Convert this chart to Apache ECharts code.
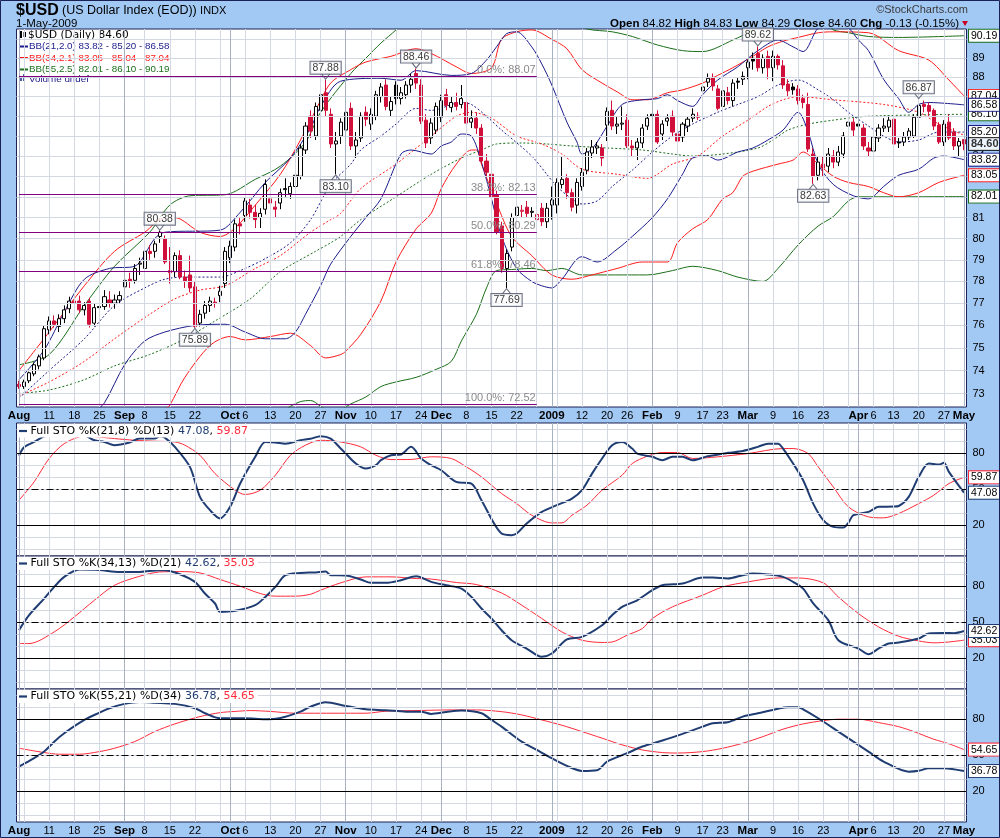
<!DOCTYPE html>
<html><head><meta charset="utf-8">
<script src="https://cdn.jsdelivr.net/npm/echarts@6/dist/echarts.min.js"></script>
<style>html,body{margin:0;padding:0;background:#a2c8f4;}#c{width:1000px;height:838px;}</style>
</head><body><div id="c"></div>
<script>
// ---------- categories ----------
const holidays = ['2008-09-01','2008-11-27','2008-12-25','2009-01-01','2009-01-19','2009-02-16','2009-04-10'];
function buildDates(){const out=[];let t=Date.UTC(2008,7,1);const end=Date.UTC(2009,4,1);
  while(t<=end){const d=new Date(t);const wd=d.getUTCDay();const s=d.toISOString().slice(0,10);
    if(wd>0&&wd<6&&holidays.indexOf(s)<0)out.push(s);t+=86400000;}return out;}
const dates = buildDates();

// ---------- tick labels ----------
const xTickIdx  = [0,6,11,16,21,25,30,35,42,45,50,55,60,65,70,75,80,84,89,94,99,106,112,117,121,126,131,136,140,145,150,155,160,167,170,174,179,184,188];
const xTickText = ['Aug','11','18','25','Sep','8','15','22','Oct','6','13','20','27','Nov','10','17','24','Dec','8','15','22','2009','12','20','26','Feb','9','17','23','Mar','9','16','23','Apr','6','13','20','27','May'];
const priceTicks = [73,74,75,76,77,78,79,80,81,82,83,84,85,86,87,88,89,90];
const stoTicks = [20,50,80];

// ---------- daily OHLC ----------
const open = [73.40,73.30,73.55,73.85,74.20,74.55,75.80,76.20,75.95,76.30,
76.75,77.10,77.10,76.70,77.10,76.10,76.85,76.85,77.15,77.00,
77.15,77.75,78.10,78.05,78.80,78.60,79.40,79.40,80.10,80.00,
78.50,78.45,79.20,78.20,78.30,77.75,76.10,76.55,76.90,77.05,
77.35,77.90,79.10,79.60,80.70,81.10,81.60,81.25,81.00,81.40,
81.90,81.50,81.70,82.35,82.15,82.50,83.00,84.30,86.00,85.00,
86.30,87.20,86.10,84.60,85.00,85.30,86.40,84.50,84.90,86.20,
85.60,86.00,87.00,87.60,86.30,87.60,86.90,87.10,87.60,88.20,
87.60,85.80,84.90,85.30,85.95,87.10,86.45,86.70,86.60,86.70,
85.70,85.90,85.40,83.75,83.10,82.10,80.60,78.60,79.60,81.10,
81.30,81.50,81.25,80.90,81.45,80.80,81.60,81.60,82.60,82.90,
82.20,81.60,82.50,83.30,84.15,84.40,84.40,85.55,86.30,85.50,
85.60,85.80,84.50,84.40,84.65,85.50,86.10,86.10,85.10,85.75,
86.00,85.10,84.95,85.50,85.90,86.00,87.30,87.75,88.00,87.40,
86.50,87.20,86.80,87.80,87.90,88.50,89.00,89.25,88.50,89.10,
88.50,89.10,88.60,87.65,87.50,87.40,86.90,86.60,84.10,83.05,
83.60,83.50,84.00,83.70,84.10,85.50,85.70,85.60,85.40,84.40,
84.25,84.90,85.40,85.45,85.85,84.70,84.70,84.95,85.00,85.95,
86.60,86.55,86.30,85.55,84.70,85.70,85.20,84.50,84.82];
const high = [73.55,73.60,73.95,74.35,74.70,76.00,76.40,76.45,76.50,76.90,
77.30,77.45,77.35,77.05,77.25,77.00,77.10,77.60,77.55,77.40,
77.55,78.30,78.40,78.80,79.10,79.75,79.70,79.90,80.38,80.15,
79.60,79.35,79.45,78.50,79.20,78.00,76.70,77.10,77.30,77.25,
77.80,79.60,79.90,80.90,81.00,81.95,81.90,81.60,81.45,82.85,
82.10,81.80,82.40,82.90,82.70,83.30,84.60,85.70,86.30,86.70,
87.40,87.88,86.40,85.20,85.90,86.40,86.70,85.20,86.20,86.50,
86.40,87.30,87.70,87.90,87.00,87.80,87.50,87.80,88.20,88.46,
87.90,86.10,85.90,86.70,87.10,87.40,87.00,87.20,87.60,87.00,
86.30,86.20,85.60,84.10,83.40,82.30,80.80,79.50,81.20,81.80,
81.60,81.80,81.50,81.40,81.70,81.70,82.50,82.90,83.95,83.10,
82.40,82.90,83.40,84.40,84.80,84.70,84.60,86.45,86.80,86.00,
86.50,86.10,84.80,84.90,85.60,86.10,86.40,86.30,85.80,86.10,
86.30,85.40,85.70,86.00,86.40,86.20,87.60,88.20,88.20,87.60,
87.40,87.50,87.90,88.00,88.30,88.90,89.30,89.62,89.20,89.40,
89.40,89.20,88.90,87.90,87.70,87.60,87.10,87.20,84.40,84.00,
84.00,84.40,84.30,84.50,85.20,86.10,85.90,85.80,85.60,84.70,
85.10,85.60,85.90,86.00,86.00,84.90,85.20,85.40,86.10,86.87,
86.80,86.70,86.40,85.70,85.80,86.10,85.40,84.90,84.83];
const low = [73.20,73.20,73.45,73.75,74.05,74.45,75.60,75.90,75.70,76.10,
76.55,76.85,76.55,76.45,75.90,75.95,76.60,76.70,76.80,76.75,
77.00,77.55,77.70,77.90,78.30,78.35,79.00,79.10,79.80,78.80,
77.90,78.20,78.10,77.70,77.50,75.89,75.95,76.30,76.60,76.80,
77.05,77.70,78.85,79.40,80.20,80.80,80.95,80.50,80.50,81.15,
81.20,81.00,81.40,82.00,81.90,82.30,82.85,84.10,84.90,84.80,
86.00,86.00,84.40,83.10,84.60,85.10,84.30,83.90,84.70,85.50,
85.30,85.80,86.70,86.30,86.00,86.60,86.60,86.90,87.20,87.40,
85.60,84.40,84.60,85.10,85.70,86.30,86.20,86.30,86.40,85.50,
85.40,85.10,83.60,82.90,81.85,80.20,78.40,77.69,79.40,80.80,
81.00,81.00,81.00,79.60,80.60,80.50,80.90,81.20,82.40,81.90,
81.30,81.20,82.30,83.10,83.90,84.10,83.50,84.75,85.30,85.10,
85.30,84.40,84.00,83.80,84.40,85.30,85.70,84.60,84.80,85.50,
85.00,84.50,84.70,85.20,85.70,85.80,86.40,87.50,87.30,86.30,
86.20,86.60,86.50,87.40,87.60,87.90,88.40,88.30,88.20,87.90,
87.80,88.40,87.40,87.00,87.10,86.60,86.40,84.20,82.63,82.80,
83.00,83.20,83.40,83.50,83.90,85.00,85.00,85.20,84.30,84.00,
83.80,84.70,85.20,85.20,84.50,84.40,84.50,84.80,84.90,85.80,
86.20,86.00,85.30,84.60,84.50,84.80,84.30,84.00,84.29];
const close = [73.30,73.50,73.90,74.25,74.60,75.85,76.20,76.05,76.30,76.70,
77.10,77.00,76.70,76.90,76.05,76.80,76.80,77.30,77.00,77.15,
77.35,78.05,78.00,78.60,78.85,79.40,79.30,79.75,80.30,78.90,
78.40,79.20,78.20,78.00,77.70,75.95,76.50,76.90,77.10,77.00,
77.55,79.40,79.65,80.70,80.60,81.80,81.25,80.90,81.20,82.60,
81.70,81.40,82.20,82.40,82.50,83.05,84.40,85.50,85.25,86.50,
87.10,86.30,84.60,84.75,85.70,86.20,84.50,84.80,86.00,85.85,
86.10,87.10,87.50,86.50,86.75,86.90,87.20,87.60,87.90,87.70,
85.75,84.65,85.65,86.50,86.80,86.55,86.70,86.50,86.90,85.65,
85.90,85.40,83.75,83.20,82.00,80.30,78.60,79.30,81.00,81.50,
81.35,81.20,81.30,81.15,80.80,81.45,81.85,82.70,82.85,82.20,
81.50,82.70,83.20,84.20,84.45,84.50,83.90,86.25,85.50,85.60,
85.65,84.50,84.40,84.70,85.40,85.90,86.00,84.70,85.60,85.90,
85.20,84.75,85.60,85.85,86.10,85.95,87.50,87.95,87.55,86.40,
87.30,86.80,87.70,87.75,88.05,88.80,88.85,88.50,89.00,88.50,
89.10,88.65,87.60,87.30,87.35,86.80,86.70,84.35,83.00,83.70,
83.40,84.10,83.70,84.20,85.00,85.70,85.30,85.50,84.50,84.25,
84.95,85.40,85.50,85.80,84.60,84.65,84.95,85.25,85.95,86.55,
86.50,86.25,85.50,84.70,85.60,84.90,84.50,84.73,84.60];

// annotated highs / lows
const peakIdx = [28,61,79,147,179];
const peakVal = [80.38,87.88,88.46,89.62,86.87];
const troughIdx = [35,63,97,158];
const troughVal = [75.89,83.10,77.69,82.63];

// Fibonacci retracement
const fibName = ['0.0%','38.2%','50.0%','61.8%','100.0%'];
const fibVal = [88.07,82.13,80.29,78.46,72.52];
const fibEndIdx = 103;

// ---------- Bollinger bands ([dayIndex, value]) ----------
const bb21U = [[0,73.6],[5,74.9],[9,76.6],[13,78.1],[18,78.6],[23,78.7],[27,80.0],[29,80.3],[40,80.4],[44,81.25],[49,82.7],[54,83.9],[58,85.4],[60,86.5],[64,87.8],[72,87.95],[76,87.85],[79,88.35],[86,88.1],[90,88.2],[93,88.9],[95,89.6],[97,90.3],[99,90.4],[102,89.6],[104,88.7],[106,87.6],[109,85.7],[111,84.7],[112,84.1],[114,84.35],[117,85.5],[120,86.6],[124,86.84],[127,86.9],[129,87.1],[131,86.8],[134,86.5],[136,87.1],[139,87.86],[143,88.55],[147,89.4],[151,89.96],[154,89.6],[156,89.35],[159,90.6],[162,90.8],[165,90.6],[167,89.96],[169,89.4],[172,87.9],[175,86.9],[177,86.2],[179,86.6],[181,86.7],[188,86.58]];
const bb21M = [[0,72.8],[6,74.0],[13,75.4],[19,76.9],[25,77.7],[29,78.1],[33,78.2],[40,78.2],[44,78.5],[49,79.06],[54,79.8],[58,80.9],[62,82.6],[66,83.6],[68,84.3],[72,85.0],[75,85.6],[79,86.4],[82,86.3],[88,86.7],[90,86.6],[93,86.0],[96,85.3],[102,84.0],[105,83.1],[107,82.5],[110,81.9],[112,81.65],[115,81.8],[118,82.5],[122,83.3],[126,84.2],[130,85.0],[134,85.6],[139,86.2],[143,86.6],[147,87.0],[151,87.6],[155,87.86],[159,87.35],[162,86.84],[165,86.2],[169,85.5],[172,85.0],[175,84.7],[179,84.8],[183,85.2],[188,85.2]];
const bb21L = [[15,72.2],[17,72.6],[21,74.25],[25,75.3],[29,75.7],[35,76.0],[41,76.05],[45,75.7],[49,75.4],[53,75.4],[55,75.7],[57,76.5],[60,77.8],[62,78.8],[66,80.1],[69,81.0],[72,81.9],[76,84.1],[78,84.3],[82,84.1],[84,84.5],[86,84.7],[88,85.1],[90,85.0],[92,83.7],[94,81.9],[96,80.1],[99,78.6],[102,78.0],[104,77.8],[106,77.7],[108,78.1],[112,79.15],[115,78.9],[119,79.5],[122,80.1],[126,81.0],[129,81.9],[132,83.1],[134,83.9],[137,84.0],[139,83.8],[143,84.2],[146,84.4],[149,84.8],[152,85.3],[155,86.2],[157,85.2],[159,83.6],[162,82.6],[166,82.05],[169,81.9],[172,82.5],[175,83.05],[179,83.35],[182,83.9],[184,84.0],[188,83.82]];
const bb34U = [[0,74.0],[6,75.7],[13,77.8],[19,79.4],[25,80.3],[29,81.0],[31,81.0],[36,80.3],[40,80.1],[43,80.5],[47,81.6],[52,83.1],[56,84.8],[59,86.3],[62,87.7],[66,88.4],[69,88.8],[74,89.1],[79,89.5],[82,89.25],[87,88.55],[90,88.2],[94,88.5],[96,90.0],[99,90.4],[102,90.5],[106,90.0],[109,89.5],[112,88.4],[116,87.7],[119,87.25],[122,86.84],[125,86.84],[129,87.2],[132,87.35],[136,87.7],[139,88.1],[142,88.5],[146,89.1],[149,89.6],[152,89.9],[155,90.1],[159,90.35],[162,90.4],[169,90.35],[175,89.4],[181,88.9],[185,87.86],[188,87.04]];
const bb34M = [[0,72.9],[6,73.5],[13,74.4],[19,75.4],[26,76.5],[31,77.2],[36,77.6],[41,77.8],[47,78.6],[52,79.2],[58,80.3],[62,80.9],[64,81.2],[68,82.4],[75,83.6],[82,85.0],[87,86.0],[90,86.2],[94,85.9],[99,85.0],[104,84.6],[108,84.1],[112,83.35],[119,83.1],[125,82.9],[130,83.6],[135,84.0],[140,85.0],[145,85.8],[149,86.5],[152,86.84],[155,87.0],[162,86.84],[172,86.6],[179,86.2],[183,85.6],[188,85.04]];
const bb34L = [[29,72.3],[30,72.5],[33,73.7],[38,75.1],[42,75.5],[45,75.35],[50,75.5],[54,75.65],[58,75.1],[61,74.55],[64,74.7],[65,74.85],[68,75.6],[72,77.1],[75,78.9],[79,80.46],[82,81.2],[84,82.4],[87,83.6],[90,84.3],[91,84.3],[92,83.6],[95,81.7],[98,80.1],[102,79.2],[106,78.3],[110,78.1],[114,78.3],[119,78.6],[124,78.9],[129,78.9],[131,79.8],[134,80.46],[137,80.9],[140,81.9],[142,82.2],[144,83.0],[146,83.25],[151,83.6],[154,83.8],[156,84.2],[159,83.6],[162,83.0],[165,82.7],[169,82.5],[172,82.2],[175,82.0],[179,82.2],[183,82.7],[188,83.05]];
const bb55U = [[0,74.25],[6,74.7],[13,76.9],[19,78.7],[26,80.3],[30,81.6],[34,82.05],[41,82.1],[47,82.85],[52,83.5],[57,84.7],[60,86.2],[66,88.2],[69,89.0],[72,89.8],[75,90.5],[76,90.8],null,[112,90.8],[113,90.55],[118,90.4],[122,90.15],[127,89.7],[132,89.4],[136,89.35],[142,89.96],[146,90.5],[147,90.8],null,[161,90.8],[162,90.5],[165,90.35],[169,90.15],[175,90.1],[188,90.19]];
const bb55M = [[0,73.0],[6,73.15],[13,73.6],[19,74.2],[26,74.7],[33,75.4],[39,76.2],[46,77.2],[52,78.45],[59,79.4],[62,79.8],[64,80.1],[68,80.9],[75,82.0],[82,83.1],[88,83.9],[92,84.3],[95,84.6],[100,84.65],[105,84.6],[110,84.5],[117,84.4],[124,84.3],[130,84.1],[134,84.0],[140,84.1],[147,84.4],[150,84.8],[153,85.3],[157,85.6],[162,85.8],[169,86.0],[188,86.1]];
const bb55L = [[53,72.3],[54,72.45],[56,72.65],[58,72.7],[60,72.45],[61,72.3],null,[64,72.3],[66,72.55],[69,72.85],[72,73.3],[75,73.5],[79,73.7],[83,74.05],[86,74.4],[88,75.3],[91,76.5],[93,77.7],[95,78.5],[98,78.55],[102,78.6],[105,78.5],[108,78.6],[112,78.3],[125,78.3],[130,78.5],[134,78.7],[139,78.5],[143,78.2],[148,78.0],[151,78.6],[155,79.7],[159,80.6],[162,81.05],[165,81.8],[167,82.0],[175,82.0],[188,82.01]];

// ---------- Full stochastics ----------
const sto1K = [[0,78],[1,85],[3,89.4],[5,94],[7,97],[10,97],[13,95],[15,90.8],[17,89.4],[19,86.7],[22,89],[24,92.2],[27,92.2],[28,94.2],[29,93],[31,85.3],[34,68.6],[36,43.6],[38,32.5],[40,25.6],[42,35.3],[44,54.7],[47,77],[49,89.4],[51,89],[53,88],[56,90.8],[58,92],[60,94.2],[62,92.2],[64,83.9],[65,79.7],[67,71.4],[69,67.2],[71,70],[72,74.2],[74,78.3],[76,79],[78,85.3],[80,75.6],[82,70],[84,65.8],[87,56.1],[90,54.7],[92,40.8],[96,13],[98,11.7],[99,13],[101,21.4],[104,31.1],[107,36.7],[110,42.2],[112,49.2],[114,63],[116,75.6],[118,86.7],[120,89.4],[122,83.9],[123,79.7],[126,77],[128,74.2],[130,77],[132,77],[134,74.2],[137,77.5],[141,80.3],[144,81.9],[147,85.3],[149,88],[151,88],[152,83.9],[154,71.4],[156,57.5],[158,38],[160,24.2],[162,18.6],[164,18],[165,22],[166,28.3],[169,31.1],[171,35.3],[174,35.5],[175,36],[177,43.6],[179,60.3],[181,71.4],[183,70.5],[184,72],[185,64.4],[188,47.08]];
const sto1D = [[0,40.8],[3,56.1],[6,75.6],[9,88],[13,94.2],[16,93.5],[19,92.2],[23,90.8],[27,90],[31,89.4],[33,86.7],[36,78.3],[39,63],[43,49.2],[45,45.6],[48,49.2],[51,61.7],[54,78.3],[57,86.7],[60,90.8],[64,89.4],[68,85.3],[71,78.3],[74,74.7],[78,74.8],[82,77],[86,75.6],[89,68.6],[92,60.3],[96,46.4],[99,38],[102,28.3],[106,21.9],[108,21.9],[110,28.3],[113,36.7],[116,49.2],[120,61.7],[122,71.4],[125,77.5],[128,80.6],[131,80.6],[134,75.6],[139,77],[145,79.7],[152,83.9],[154,83.9],[157,79.7],[159,68.6],[162,51.9],[165,35.3],[169,26.9],[172,26.1],[175,29.7],[179,38],[182,45],[185,54.7],[188,59.87]];
const sto2K = [[0,43.3],[2,55.8],[5,69.7],[7,79.4],[9,87.8],[12,93.9],[16,93.5],[20,91.9],[24,91.9],[28,93.3],[29,93.3],[32,90],[35,83.6],[37,73.9],[39,65.6],[40,58.6],[43,59.5],[47,64.2],[49,71.1],[51,79.4],[53,89.2],[56,91.1],[59,91.5],[61,92.2],[62,89.2],[65,89],[68,85.6],[70,82.8],[73,82.8],[76,85],[79,88.3],[82,83.6],[85,80.8],[88,78],[90,71.1],[92,61.4],[94,53.1],[96,43.3],[98,35],[101,28],[104,21.1],[106,23.9],[109,35.6],[112,37.8],[116,47.5],[118,55.8],[120,62.8],[123,68.3],[126,76.7],[128,80.8],[132,82.2],[136,87.2],[138,87.2],[141,86.4],[144,89.2],[146,90.6],[149,89.8],[152,87.8],[154,83.6],[156,78],[158,65.6],[161,51.7],[163,35],[167,28],[169,23.3],[171,28],[173,32.2],[175,33],[179,36.4],[181,40.6],[184,41],[186,40.8],[188,42.62]];
const sto2D = [[0,32.2],[2,32.2],[7,41.9],[11,54.4],[15,68.3],[19,80.8],[24,88.3],[28,91.9],[32,92.2],[36,91.1],[40,85.6],[44,80],[48,73.9],[51,71.7],[55,71.7],[58,73.3],[60,76.7],[64,82.8],[69,87.8],[74,87.8],[79,86.4],[82,86],[87,83.1],[91,81.4],[96,74.4],[100,64.2],[104,53.1],[108,41.9],[112,35],[116,33.1],[118,33.5],[121,39.2],[124,44.7],[126,53.1],[130,62.8],[136,72.5],[140,79.4],[145,83.6],[151,86.9],[155,86.9],[160,82.8],[163,71.1],[167,57.2],[171,46.1],[175,38.3],[179,34.4],[182,32.8],[185,33.5],[188,35.03]];
const sto3K = [[0,40.5],[3,47.5],[5,53],[7,61.3],[9,68.3],[13,79.4],[16,85.5],[18,89.2],[21,92.8],[24,94.4],[27,93.8],[31,92.8],[35,89.2],[37,85],[40,80.8],[45,80.8],[49,80],[52,81],[56,86.3],[58,90.5],[61,94.2],[65,91.1],[69,88.3],[73,87.5],[77,86.3],[80,86.3],[82,84.4],[85,86],[88,87.2],[92,85],[94,79.4],[96,73.8],[100,61.3],[103,54.4],[106,47.5],[109,41.1],[112,36.9],[115,37.5],[117,44.7],[121,51.7],[124,57.2],[128,62.2],[132,67.8],[136,73.8],[138,76.7],[141,77.5],[144,82.2],[147,85],[151,88.8],[153,90],[155,90],[156,88.3],[159,80.8],[163,69.7],[166,61.3],[169,53],[172,44.7],[177,36.3],[179,37],[181,39.2],[184,39.2],[188,36.78]];
const sto3D = [[0,55.8],[5,52.2],[8,50.8],[12,50.8],[16,53],[19,55.8],[23,61.3],[27,69.7],[31,76.1],[36,82.2],[40,85.5],[43,86.5],[46,87.2],[50,86.5],[55,85],[60,85],[65,85],[69,85],[73,86.7],[80,87.3],[86,87.75],[91,87.75],[96,86.3],[100,83.6],[104,79.4],[108,75],[112,69.7],[116,64.2],[120,58.6],[124,54.4],[128,52.2],[131,51.8],[136,53],[140,55.8],[144,60],[148,65.5],[152,71.7],[156,76.1],[160,78.8],[163,80],[167,80],[171,77.2],[175,73.8],[178,69.7],[182,63.3],[185,59.5],[188,54.65]];

// ---------- styling ----------
const BG='#a2c8f4', FRAME='#1a2255', GRIDC='#d4d8e3', MONTHC='#a7b1c1';
const NAVY='#1c1c8c', RED='#ff1a1a', GREEN='#1a6e1a', KCOL='#1f3d73', DCOL='#ff2a3a', CRED='#d0103a';
const FONT='"Liberation Sans", Arial, sans-serif';
const DV='"DejaVu Sans", sans-serif';
const panels=[{top:29,height:378},{top:423,height:133},{top:556,height:133},{top:689,height:133}];

// week / month grid positions from the calendar
const weekIdx=[], monthIdx=[];
dates.forEach((s,i)=>{
  const t=Date.parse(s), wk=Math.floor((t/86400000+3)/7);
  if(i===0){weekIdx.push(i);monthIdx.push(i);return;}
  const p=Date.parse(dates[i-1]), pwk=Math.floor((p/86400000+3)/7);
  if(wk!==pwk) weekIdx.push(i);
  if(s.slice(5,7)!==dates[i-1].slice(5,7)) monthIdx.push(i);
});

const tickMap={}; xTickIdx.forEach((x,k)=>tickMap[x]=xTickText[k]);
const boldSet=new Set(['Aug','Sep','Oct','Nov','Dec','2009','Feb','Mar','Apr','May']);

function segments(arr){const out=[[]];arr.forEach(p=>{if(p===null)out.push([]);else out[out.length-1].push(p);});return out.filter(s=>s.length);}
function badge(col,bold){return {show:true,formatter:p=>Number(p.value[1]).toFixed(2),color:'#000',fontSize:bold?11:10.5,fontWeight:bold?'bold':'normal',fontFamily:FONT,backgroundColor:'#fff',borderColor:col,borderWidth:1,padding:[1,2,0,2],distance:5};}
function lineSeries(pts,k,color,width,type,withBadge){
  const segs=segments(pts);
  return segs.map((seg,si)=>({type:'line',xAxisIndex:k,yAxisIndex:k,data:seg,showSymbol:false,symbol:'none',smooth:0.3,silent:true,z:3,
    lineStyle:{color:color,width:width,type:type},
    endLabel:(withBadge&&si===segs.length-1)?badge(color):{show:false}}));
}

// ---------- axes ----------
const grids=panels.map(p=>({left:16.5,width:950,top:p.top,height:p.height,show:true,backgroundColor:'#fff',borderColor:FRAME,borderWidth:1}));
const xAxes=panels.map((p,k)=>({type:'category',gridIndex:k,data:dates,boundaryGap:true,
  axisLine:{show:false},axisTick:{show:false},splitLine:{show:false},
  axisLabel:(k===0||k===3)?{show:true,interval:(i)=>tickMap[i]!==undefined,
    formatter:(v,i)=>{const t=tickMap[i]||'';return boldSet.has(t)?'{b|'+t+'}':t;},
    rich:{b:{fontWeight:'bold',fontSize:11.5,fontFamily:FONT,color:'#000'}},
    fontSize:11,fontFamily:FONT,color:'#000',margin:3}:{show:false}}));
const yAxes=[{type:'log',gridIndex:0,min:72.42,max:90.55,position:'right',
  axisLine:{show:false},axisTick:{show:false},splitLine:{show:false},
  axisLabel:{customValues:priceTicks,formatter:v=>String(Math.round(v)),fontSize:11,fontFamily:FONT,color:'#000',margin:6}}];
for(let k=1;k<4;k++) yAxes.push({type:'value',gridIndex:k,min:-5.7,max:105.2,position:'right',
  axisLine:{show:false},axisTick:{show:false},splitLine:{show:false},
  axisLabel:{customValues:stoTicks,fontSize:11,fontFamily:FONT,color:'#000',margin:6}});

// ---------- helper grid-line series ----------
function gridLines(k){
  const d=[];
  weekIdx.forEach(i=>d.push({xAxis:i,lineStyle:{color:GRIDC,width:1,type:'solid'}}));
  if(k===0){priceTicks.forEach(v=>d.push({yAxis:v,lineStyle:{color:GRIDC,width:1,type:'solid'}}));}
  else{
    for(let v=0;v<=100;v+=10) d.push({yAxis:v,lineStyle:{color:GRIDC,width:1,type:'solid'}});
  }
  monthIdx.forEach(i=>d.push({xAxis:i,lineStyle:{color:MONTHC,width:1,type:'solid'}}));
  if(k>0){
    d.push({yAxis:80,lineStyle:{color:'#000',width:1,type:'solid'}});
    d.push({yAxis:20,lineStyle:{color:'#000',width:1,type:'solid'}});
    d.push({yAxis:50,lineStyle:{color:'#000',width:1,type:[7,3,2,3]}});
  }
  return {type:'line',xAxisIndex:k,yAxisIndex:k,data:[],z:1,silent:true,
    markLine:{silent:true,symbol:'none',animation:false,label:{show:false},data:d}};
}

// ---------- candles ----------
const candleData=open.map((o,i)=>{
  const c=close[i],prev=i>0?close[i-1]:o;
  let fill,border;
  if(c>=o){fill='#ffffff';border=(c>=prev)?'#000000':CRED;}
  else{fill=(c<prev)?CRED:'#000000';border=fill;}
  return {value:[o,c,low[i],high[i]],itemStyle:{color:fill,color0:fill,borderColor:border,borderColor0:border,borderWidth:1}};
});

const series=[gridLines(0),gridLines(1),gridLines(2),gridLines(3)];
series.push({type:'candlestick',xAxisIndex:0,yAxisIndex:0,data:candleData,barWidth:3.6,z:4,silent:true,
  markLine:{silent:true,symbol:'none',animation:false,
    lineStyle:{color:'#800080',width:1,type:'solid'},
    label:{show:true,position:'insideEndTop',formatter:p=>p.name,color:'#8a8a8a',fontSize:11,fontFamily:FONT,distance:1},
    data:fibVal.map((v,k)=>[{name:fibName[k]+': '+v.toFixed(2),coord:[0,v]},{coord:[fibEndIdx,v]}])}});
// bands
[].concat(
  lineSeries(bb55U,0,GREEN,1,'solid',true),lineSeries(bb55M,0,GREEN,1,[2,2],true),lineSeries(bb55L,0,GREEN,1,'solid',true),
  lineSeries(bb34U,0,RED,1,'solid',true),lineSeries(bb34M,0,RED,1,[2,2],false),lineSeries(bb34L,0,RED,1,'solid',true),
  lineSeries(bb21U,0,NAVY,1,'solid',true),lineSeries(bb21M,0,NAVY,1,[2,2],true),lineSeries(bb21L,0,NAVY,1,'solid',true)
).forEach(s=>series.push(s));
// high/low boxes
const boxLbl={show:true,formatter:p=>Number(p.value[1]).toFixed(2),backgroundColor:'#fff',borderColor:'#4a5066',borderWidth:1,padding:[1,2,0,2],fontSize:10.5,fontFamily:FONT,color:'#000'};
series.push({type:'scatter',xAxisIndex:0,yAxisIndex:0,z:6,silent:true,data:peakIdx.map((x,k)=>[x,peakVal[k]]),
  symbol:'path://M0,0L4,5L8,0',symbolSize:[8,5],symbolOffset:[0,-3],itemStyle:{color:'rgba(0,0,0,0)',borderColor:'#4a5066',borderWidth:1},
  label:Object.assign({},boxLbl,{position:'top',distance:0})});
series.push({type:'scatter',xAxisIndex:0,yAxisIndex:0,z:6,silent:true,data:troughIdx.map((x,k)=>[x,troughVal[k]]),
  symbol:'path://M0,5L4,0L8,5',symbolSize:[8,5],symbolOffset:[0,3],itemStyle:{color:'rgba(0,0,0,0)',borderColor:'#4a5066',borderWidth:1},
  label:Object.assign({},boxLbl,{position:'bottom',distance:0})});
// last close badge
series.push({type:'scatter',xAxisIndex:0,yAxisIndex:0,z:7,silent:true,data:[[close.length-1,close[close.length-1]]],symbolSize:0,
  label:Object.assign(badge('#000',true),{position:'right',distance:5})});
// stochastics
[[sto1D,sto1K,1],[sto2D,sto2K,2],[sto3D,sto3K,3]].forEach(([d,kk,g])=>{
  lineSeries(d,g,DCOL,1,'solid',true).forEach(s=>series.push(s));
  lineSeries(kk,g,KCOL,2,'solid',true).forEach(s=>series.push(s));
});

// ---------- header + legends ----------
const graphic=[
  {type:'rect',shape:{x:0.5,y:0.5,width:999,height:837},style:{fill:null,stroke:FRAME,lineWidth:1},silent:true,z:100},
  {type:'text',x:16,y:11,style:{text:'{a|$USD} {b|(US Dollar Index (EOD))} {c|INDX}',verticalAlign:'middle',
    rich:{a:{fontSize:16,fontWeight:'bold',fontFamily:FONT,fill:'#000'},b:{fontSize:12.5,fontFamily:FONT,fill:'#000'},c:{fontSize:11,fontFamily:FONT,fill:'#000'}}}},
  {type:'text',x:16,y:23.5,style:{text:'1-May-2009',font:'11.5px '+FONT,fill:'#000',verticalAlign:'middle'}},
  {type:'text',x:968,y:10,style:{text:'\u00A9StockCharts.com',font:'11px '+FONT,fill:'#3a3a3a',align:'right',verticalAlign:'middle'}},
  {type:'text',x:959,y:23.5,style:{text:'{b|Open} 84.82 {b|High} 84.83 {b|Low} 84.29 {b|Close} 84.60 {b|Chg} -0.13 (-0.15%)',
    font:'11.5px '+FONT,fill:'#000',align:'right',verticalAlign:'middle',rich:{b:{fontWeight:'bold',fontSize:11.5,fontFamily:FONT,fill:'#000'}}}},
  {type:'polygon',shape:{points:[[962,21],[968,21],[965,26]]},style:{fill:'#cc0022'}},
  // main legend
  {type:'rect',shape:{x:19.5,y:31,width:2.5,height:7},style:{fill:'#000'}},
  {type:'rect',shape:{x:23.5,y:32,width:2.5,height:5},style:{fill:'#000'}},
  {type:'text',x:28,y:35,style:{text:'$USD (Daily) 84.60',font:'10.5px '+DV,fill:'#000',verticalAlign:'middle'}},
  {type:'rect',shape:{x:19,y:45.5,width:9,height:2},style:{fill:NAVY}},
  {type:'text',x:29,y:46.5,style:{text:'BB(21,2.0) 83.82 - 85.20 - 86.58',font:'9.8px '+FONT,fill:NAVY,verticalAlign:'middle'}},
  {type:'rect',shape:{x:19,y:57,width:9,height:2},style:{fill:RED}},
  {type:'text',x:29,y:58,style:{text:'BB(34,2.1) 83.05 - 85.04 - 87.04',font:'9.8px '+FONT,fill:RED,verticalAlign:'middle'}},
  {type:'rect',shape:{x:19,y:68.5,width:9,height:2},style:{fill:GREEN}},
  {type:'text',x:29,y:69.5,style:{text:'BB(55,2.5) 82.01 - 86.10 - 90.19',font:'9.8px '+FONT,fill:GREEN,verticalAlign:'middle'}},
  {type:'rect',shape:{x:20,y:76,width:2,height:5},style:{fill:'#4a5ea0'}},
  {type:'rect',shape:{x:23,y:74,width:2,height:7},style:{fill:'#4a5ea0'}},
  {type:'text',x:29,y:79,style:{text:'Volume undef',font:'9.8px '+FONT,fill:NAVY,verticalAlign:'middle'}}
];
[['Full STO %K(21,8) %D(13) ','47.08','59.87',431],['Full STO %K(34,13) %D(21) ','42.62','35.03',563.5],['Full STO %K(55,21) %D(34) ','36.78','54.65',696.5]].forEach(([t,k,d,y])=>{
  graphic.push({type:'text',x:17.5,y:y,z:50,style:{text:'{t|'+t+'}{k|'+k+'}{t|, }{d|'+d+'}',verticalAlign:'middle',
    backgroundColor:'#fff',padding:[1,3,1,13],
    rich:{t:{fontSize:11,fontFamily:DV,fill:'#000'},k:{fontSize:11,fontFamily:DV,fill:KCOL},d:{fontSize:11,fontFamily:DV,fill:DCOL}}}});
  graphic.push({type:'rect',z:51,shape:{x:19,y:y-1.1,width:8,height:2.2},style:{fill:KCOL}});
});

const chart=echarts.init(document.getElementById('c'),null,{width:1000,height:838});
chart.setOption({animation:false,backgroundColor:BG,grid:grids,xAxis:xAxes,yAxis:yAxes,series:series,graphic:graphic});
</script></body></html>
